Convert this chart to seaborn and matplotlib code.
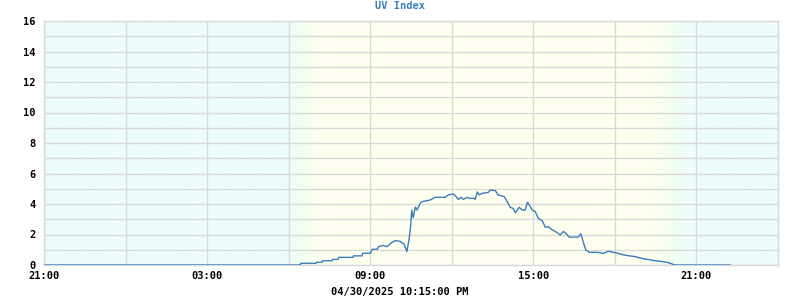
import numpy as np
import pandas as pd
import matplotlib
matplotlib.use("Agg")
import matplotlib.pyplot as plt
from matplotlib.colors import LinearSegmentedColormap
import seaborn as sns

# hours since 21:00 (04/29) and UV index values
hours = [0.0, 9.42, 9.45, 10.01, 10.03, 10.23, 10.25, 10.60, 10.62, 10.82, 10.84,
         11.37, 11.39, 11.70, 11.72, 12.00, 12.07, 12.26, 12.30, 12.48, 12.62,
         12.77, 12.92, 13.10, 13.25, 13.35, 13.43, 13.49, 13.51, 13.53, 13.58,
         13.66, 13.72, 13.76, 13.84, 13.91, 14.02, 14.21, 14.39, 14.76, 14.87,
         15.05, 15.13, 15.24, 15.35, 15.42, 15.57, 15.64, 15.83, 15.86, 15.94,
         16.01, 16.12, 16.34, 16.41, 16.60, 16.71, 16.86, 16.93, 17.04, 17.15,
         17.26, 17.34, 17.41, 17.48, 17.59, 17.70, 17.78, 17.81, 17.96, 18.07,
         18.18, 18.33, 18.44, 18.55, 18.70, 18.81, 18.99, 19.10, 19.18, 19.32,
         19.65, 19.75, 19.84, 19.93, 20.06, 20.36, 20.57, 20.76, 20.94, 21.13,
         21.27, 21.49, 21.75, 21.93, 22.12, 22.41, 22.67, 22.93, 23.05, 23.22,
         25.25]
uv = [0.0, 0.0, 0.11, 0.11, 0.18, 0.18, 0.28, 0.28, 0.37, 0.37, 0.50,
      0.50, 0.60, 0.60, 0.77, 0.77, 1.03, 1.03, 1.20, 1.28, 1.20,
      1.45, 1.60, 1.55, 1.35, 0.88, 1.70, 2.60, 3.20, 3.60, 3.10,
      3.80, 3.60, 3.75, 4.05, 4.15, 4.20, 4.26, 4.44, 4.44, 4.59,
      4.66, 4.55, 4.30, 4.44, 4.30, 4.44, 4.37, 4.37, 4.30, 4.79,
      4.60, 4.70, 4.76, 4.92, 4.88, 4.59, 4.52, 4.48, 4.15, 3.78,
      3.71, 3.43, 3.60, 3.78, 3.60, 3.60, 4.10, 4.05, 3.60, 3.50,
      3.06, 2.90, 2.47, 2.51, 2.30, 2.20, 1.97, 2.20, 2.10, 1.83,
      1.83, 2.05, 1.48, 0.99, 0.83, 0.83, 0.76, 0.90, 0.83, 0.76,
      0.68, 0.61, 0.55, 0.46, 0.39, 0.30, 0.24, 0.17, 0.10, 0.0,
      0.0]

x_tick_pos = [0, 6, 12, 18, 24]
x_tick_labels = ["21:00", "03:00", "09:00", "15:00", "21:00"]
y_ticks = [0, 2, 4, 6, 8, 10, 12, 14, 16]

df = pd.DataFrame({"hours": hours, "uv": uv})

sns.set_theme(style="white")
plt.rcParams["font.family"] = ["DejaVu Sans Mono", "DejaVu Sans"]

fig = plt.figure(figsize=(8, 3), dpi=100)
ax = fig.add_axes([44 / 800, 35 / 300, 734 / 800, 244 / 300])

# day/night background gradient
night = np.array([238, 252, 253]) / 255
mid = np.array([240, 255, 242]) / 255
day = np.array([255, 255, 240]) / 255
xmax = 27.0
stops = [(0, night), (9.0, night), (9.4, mid), (10.2, day), (22.3, day),
         (23.3, mid), (24.0, night), (xmax, night)]
cmap = LinearSegmentedColormap.from_list("bg", [(s / xmax, c) for s, c in stops])
grad = np.linspace(0, 1, 1000).reshape(1, -1)
ax.imshow(grad, cmap=cmap, aspect="auto", extent=(0, xmax, 0, 16), zorder=0,
          interpolation="bilinear")

sns.lineplot(data=df, x="hours", y="uv", ax=ax, color="#3a7dbd", linewidth=1.0,
             zorder=3)

ax.set_xlim(0, xmax)
ax.set_ylim(0, 16)
ax.set_xticks(x_tick_pos)
ax.set_xticklabels(x_tick_labels)
ax.set_xticks(np.arange(0, 28, 3), minor=True)
ax.set_yticks(y_ticks)
ax.set_yticks(np.arange(0, 17, 1), minor=True)
ax.grid(which="both", color="#d9d9d9", linewidth=1.0, zorder=1)
ax.set_axisbelow(False)
for gl in ax.get_xgridlines() + ax.get_ygridlines():
    gl.set_zorder(1)
ax.tick_params(which="both", length=0, labelsize=7.5, pad=6)
for lbl in ax.get_xticklabels() + ax.get_yticklabels():
    lbl.set_fontweight("bold")
    lbl.set_color("black")
ax.tick_params(axis="x", pad=4)
for s in ax.spines.values():
    s.set_color("#d9d9d9")
    s.set_linewidth(1.0)
ax.set_xlabel("")
ax.set_ylabel("")

fig.text(0.5, 1 - 6 / 300, "UV Index", color="#3a7dbd", fontsize=7.5,
         fontweight="bold", ha="center", va="center")
fig.text(400 / 800, 1 - 292 / 300, "04/30/2025 10:15:00 PM", color="black",
         fontsize=7.5, fontweight="bold", ha="center", va="center")

fig.savefig("out.png", dpi=100)
